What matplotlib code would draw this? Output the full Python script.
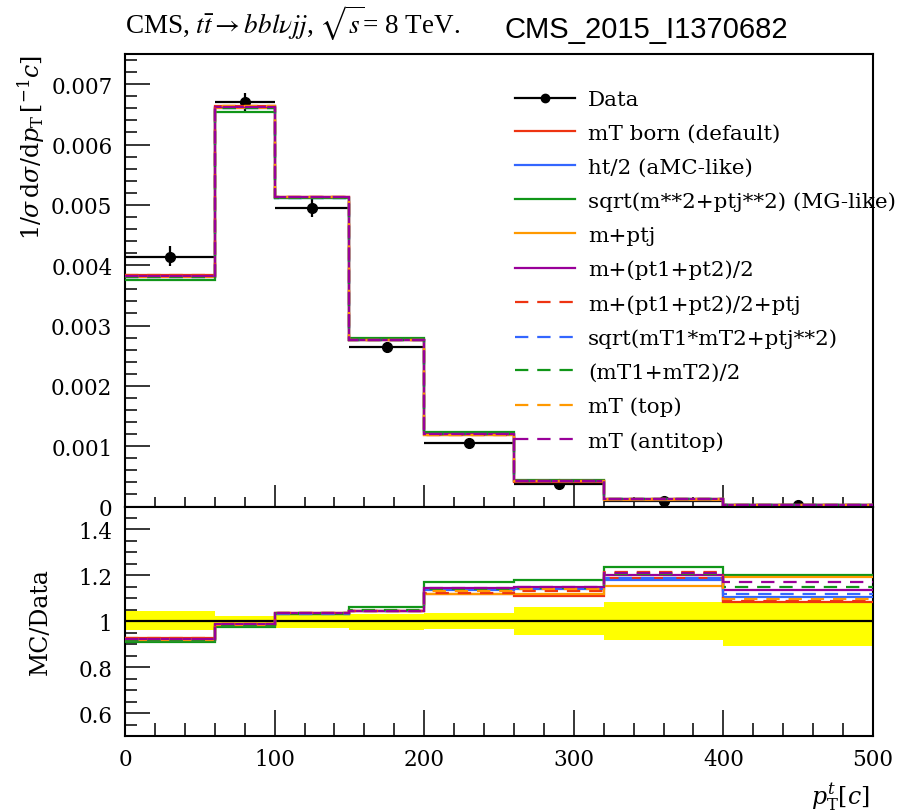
import numpy as np
import matplotlib
matplotlib.use("Agg")
import matplotlib.pyplot as plt
from matplotlib.lines import Line2D
from matplotlib.ticker import MultipleLocator, FuncFormatter

# ---------------- data ----------------
edges = [0, 60, 100, 150, 200, 260, 320, 400, 500]
data = [4.14e-3, 6.70e-3, 4.95e-3, 2.64e-3, 1.053e-3, 0.373e-3, 0.098e-3, 0.025e-3]
rel_up = [0.044, 0.024, 0.029, 0.033, 0.038, 0.064, 0.086, 0.079]
rel_dn = [0.036, 0.024, 0.029, 0.036, 0.033, 0.058, 0.080, 0.107]

labels = ["mT born (default)", "ht/2 (aMC-like)", "sqrt(m**2+ptj**2) (MG-like)",
          "m+ptj", "m+(pt1+pt2)/2", "m+(pt1+pt2)/2+ptj",
          "sqrt(mT1*mT2+ptj**2)", "(mT1+mT2)/2", "mT (top)", "mT (antitop)"]

# MC / Data ratios
r_mt_born   = [0.925, 0.990, 1.035, 1.045, 1.120, 1.110, 1.190, 1.084]
r_ht2       = [0.920, 0.985, 1.033, 1.043, 1.135, 1.140, 1.180, 1.105]
r_mg        = [0.908, 0.977, 1.032, 1.060, 1.172, 1.179, 1.236, 1.201]
r_m_ptj     = [0.920, 0.985, 1.035, 1.045, 1.118, 1.120, 1.154, 1.191]
r_m_pt12    = [0.922, 0.988, 1.036, 1.046, 1.145, 1.150, 1.200, 1.135]
r_m_pt12ptj = [0.925, 0.990, 1.035, 1.045, 1.125, 1.130, 1.215, 1.090]
r_mt12ptj   = [0.920, 0.985, 1.033, 1.043, 1.140, 1.145, 1.190, 1.117]
r_mt1mt2    = [0.918, 0.985, 1.034, 1.047, 1.140, 1.145, 1.205, 1.150]
r_mt_top    = [0.922, 0.990, 1.035, 1.045, 1.130, 1.140, 1.210, 1.095]
r_mt_atop   = [0.922, 0.988, 1.036, 1.046, 1.145, 1.150, 1.210, 1.169]

ratios = [r_mt_born, r_ht2, r_mg, r_m_ptj, r_m_pt12, r_m_pt12ptj,
          r_mt12ptj, r_mt1mt2, r_mt_top, r_mt_atop]
colors = ["#EE3311", "#3366FF", "#109618", "#FF9900", "#990099"] * 2
styles = ["-"] * 5 + ["--"] * 5

# ---------------- figure ----------------
plt.rcParams["mathtext.fontset"] = "dejavuserif"
W, H = 902, 812
fig = plt.figure(figsize=(W / 100, H / 100), dpi=100)
L, R = 125, 873
T, M, B = 55, 507.5, 737
ax = fig.add_axes([L / W, 1 - M / H, (R - L) / W, (M - T) / H])
rax = fig.add_axes([L / W, 1 - B / H, (R - L) / W, (B - M) / H])

serif = "DejaVu Serif"
tfs = 15.5

edges_a = np.array(edges, float)
centers = 0.5 * (edges_a[1:] + edges_a[:-1])
halfw = 0.5 * (edges_a[1:] - edges_a[:-1])
data_a = np.array(data)
yerr = [data_a * np.array(rel_dn), data_a * np.array(rel_up)]

ax.errorbar(centers, data_a, xerr=halfw, yerr=yerr, fmt="o", color="black",
            ms=7, lw=1.6, capsize=0, zorder=2)
dash = (0, (6, 4))
for r, c, s in zip(ratios, colors, styles):
    mc = np.array(r) * data_a
    ls = "-" if s == "-" else dash
    ax.stairs(mc, edges_a, baseline=None, color=c, lw=1.6, ls=ls, zorder=3)

ax.set_xlim(0, 500)
ax.set_ylim(0, 0.0075)

# ratio panel
band_lo = 1 - np.array(rel_dn)
band_hi = 1 + np.array(rel_up)
rax.stairs(band_hi, edges_a, baseline=band_lo, fill=True, color="#FFFF00", lw=0, zorder=1)
rax.axhline(1.0, color="black", lw=1.6, zorder=2)
for r, c, s in zip(ratios, colors, styles):
    ls = "-" if s == "-" else dash
    rax.stairs(np.array(r), edges_a, baseline=None, color=c, lw=1.6, ls=ls, zorder=3)
rax.set_xlim(0, 500)
rax.set_ylim(0.5, 1.5)

for a in (ax, rax):
    for sp in a.spines.values():
        sp.set_linewidth(1.5)
    a.xaxis.set_major_locator(MultipleLocator(100))
    a.xaxis.set_minor_locator(MultipleLocator(20))
    a.tick_params(which="both", direction="in", top=False, right=False, width=1.1,
                  labelsize=tfs, labelfontfamily=serif)
    a.tick_params(which="major", axis="y", length=18, pad=9)
    a.tick_params(which="minor", axis="y", length=8.6)

ax.yaxis.set_major_locator(MultipleLocator(0.001))
ax.yaxis.set_minor_locator(MultipleLocator(0.0002))
ax.yaxis.set_major_formatter(FuncFormatter(lambda v, p: "0" if abs(v) < 1e-12 else f"{v:.3f}"))
ax.tick_params(which="major", axis="x", length=16)
ax.tick_params(which="minor", axis="x", length=7.2)
ax.tick_params(axis="x", labelbottom=False)

rax.yaxis.set_major_locator(MultipleLocator(0.2))
rax.yaxis.set_minor_locator(MultipleLocator(0.05))
rax.yaxis.set_major_formatter(FuncFormatter(lambda v, p: "" if (v < 0.55 or v > 1.45) else f"{v:g}"))
rax.tick_params(which="major", axis="x", length=19, pad=9)
rax.tick_params(which="minor", axis="x", length=9.4)

# legend
lfs = 15.4
handles = [Line2D([], [], color="black", marker="o", ms=6, lw=1.6)]
for c, s in zip(colors, styles):
    handles.append(Line2D([], [], color=c, lw=1.6, ls=("-" if s == "-" else dash)))
leg = ax.legend(handles, ["Data"] + labels, loc="upper left",
                bbox_to_anchor=((515 - L) / (R - L), 1 - (91 - T) / (M - T)),
                frameon=False, prop={"family": serif, "size": lfs},
                handlelength=2.79, handletextpad=0.62, labelspacing=0.69,
                borderpad=0, borderaxespad=0)
for t in leg.get_texts():
    t.set_clip_on(False)

# labels
fig.text(31 / W, 1 - T / H, r"$1/\sigma\,\mathrm{d}\sigma/\mathrm{d}p_\mathrm{T}\,[{}^{-1}c]$",
         rotation=90, ha="center", va="top", fontsize=17, family=serif)
fig.text(40 / W, 1 - 622 / H, "MC/Data", rotation=90, ha="center", va="center",
         fontsize=17, family=serif)
fig.text(870 / W, 1 - 805 / H, r"$p_\mathrm{T}^{t}[c]$", ha="right", va="baseline",
         fontsize=17, family=serif)

fig.text(125 / W, 1 - 34 / H, r"CMS, $t\bar{t} \rightarrow bbl\nu jj$, $\sqrt{s}$= 8 TeV.",
         ha="left", va="baseline", fontsize=19.5, family="Liberation Serif",
         math_fontfamily="stix")
fig.text(505 / W, 1 - 38 / H, "CMS_2015_I1370682", ha="left", va="baseline",
         fontsize=21, family="Liberation Sans")

fig.savefig("out.png", dpi=100)
